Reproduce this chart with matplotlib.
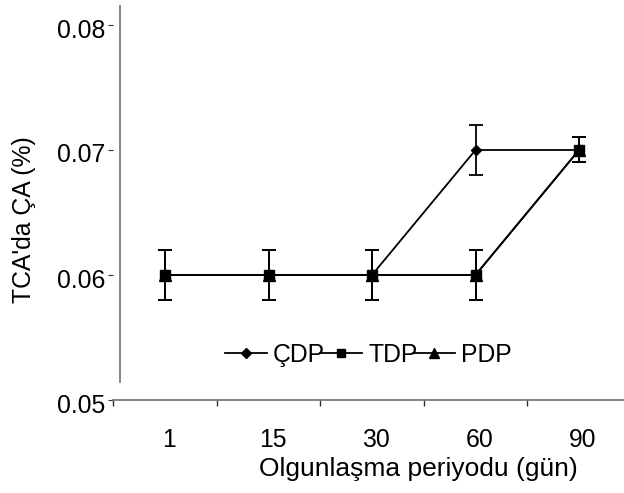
import matplotlib.pyplot as plt
from matplotlib.lines import Line2D
from matplotlib.transforms import ScaledTranslation

plt.rcParams['font.family'] = ['Liberation Sans', 'DejaVu Sans']

# ripening period (days) and TCA-soluble N values
days = ['1', '15', '30', '60', '90']
cdp = [0.06, 0.06, 0.06, 0.07, 0.07]
tdp = [0.06, 0.06, 0.06, 0.06, 0.07]
pdp = [0.06, 0.06, 0.06, 0.06, 0.07]
err = [0.002, 0.002, 0.002, 0.002, 0.001]

fig = plt.figure(figsize=(6.24, 4.93), dpi=100)
ax = fig.add_axes([113.25 / 624, 93 / 493, 517.5 / 624, 375 / 493])

x = list(range(len(days)))
fs = 17.8

# error bars first, then the lines; PDP sits under TDP
for vals, z in [(pdp, 2), (cdp, 3), (tdp, 4)]:
    ax.errorbar(x, vals, yerr=err, fmt='none', ecolor='black',
                elinewidth=1.3, capsize=5, capthick=1.3, zorder=z, clip_on=False)

ax.plot(x, pdp, color='black', lw=1.3, marker='^', ms=8, zorder=2, clip_on=False)
ax.plot(x, cdp, color='black', lw=1.3, marker='D', ms=5.5, zorder=3, clip_on=False)
ax.plot(x, tdp, color='black', lw=1.3, marker='s', ms=7.5, zorder=4, clip_on=False)

ax.set_xlim(-0.5, 4.5)
ax.set_ylim(0.05, 0.08)
ax.set_yticks([0.05, 0.06, 0.07, 0.08])
ax.set_yticklabels(['0.05', '0.06', '0.07', '0.08'])
ax.set_xticks(x)
ax.set_xticklabels(days)
ax.set_xticks([-0.5, 0.5, 1.5, 2.5, 3.5, 4.5], minor=True)

for s in ['top', 'right', 'left']:
    ax.spines[s].set_visible(False)
ax.spines['bottom'].set_color('#707070')
ax.spines['bottom'].set_linewidth(1.2)

ax.tick_params(axis='x', which='major', length=0, pad=20, labelsize=fs)
ax.tick_params(axis='x', which='minor', length=4.5, width=1, color='#303030')
ax.tick_params(axis='y', length=3.5, width=0.8, color='#303030', pad=2.5, labelsize=fs)

# nudge tick labels a few pixels like the original
for lab in ax.get_xticklabels():
    lab.set_transform(lab.get_transform() + ScaledTranslation(0.04, 0, fig.dpi_scale_trans))
for lab in ax.get_yticklabels():
    lab.set_transform(lab.get_transform() + ScaledTranslation(0, -0.03, fig.dpi_scale_trans))

# stray vertical line left of the plot area
fig.add_artist(Line2D([120 / 624, 120 / 624], [1 - 6 / 493, 1 - 382 / 493],
                      color='#707070', lw=1.2))

fig.text(418 / 624, 1 - 469 / 493, 'Olgunlaşma periyodu (gün)', ha='center', va='center', fontsize=19)
fig.text(24 / 624, 1 - 220 / 493, "TCA'da ÇA (%)", ha='center', va='center',
         rotation=90, fontsize=fs)

handles = [Line2D([], [], color='black', lw=1.3, marker='D', ms=5),
           Line2D([], [], color='black', lw=1.3, marker='s', ms=6),
           Line2D([], [], color='black', lw=1.3, marker='^', ms=7)]
fig.legend(handles, ['ÇDP', 'TDP', 'PDP'], ncol=3, frameon=False,
           loc='center', bbox_to_anchor=(368 / 624, 1 - 355 / 493), fontsize=fs,
           handlelength=1.7, handletextpad=0.25, columnspacing=-0.2, borderpad=0)

fig.savefig('out.png', dpi=100)
